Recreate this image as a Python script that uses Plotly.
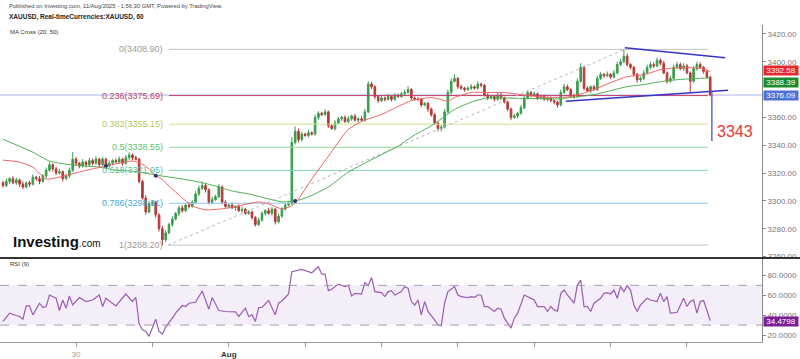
import plotly.graph_objects as go

# ---------------- data ----------------
closes = [
    3311, 3314, 3316, 3313, 3315, 3312, 3310, 3313, 3312, 3317,
    3316, 3314, 3318, 3322, 3326, 3323, 3320, 3321, 3316, 3318,
    3322, 3330, 3327, 3325, 3328, 3326, 3329, 3327, 3330, 3326,
    3330, 3325, 3327, 3329, 3328, 3330, 3327, 3331, 3333, 3331,
    3330, 3314, 3302, 3292, 3298, 3299, 3290, 3280, 3272, 3277,
    3283, 3287, 3291, 3295, 3293, 3297, 3296, 3299, 3305, 3309,
    3311, 3308, 3299, 3301, 3303, 3310, 3299, 3296, 3297, 3295,
    3296, 3293, 3294, 3291, 3292, 3288, 3283, 3286, 3291, 3293,
    3291, 3294, 3285, 3289, 3294, 3297, 3298, 3342, 3350, 3344,
    3348, 3347, 3349, 3348, 3360, 3363, 3362, 3364, 3354, 3352,
    3356, 3359, 3360, 3357, 3359, 3361, 3358, 3359, 3358, 3364,
    3384, 3382, 3375, 3372, 3374, 3373, 3375, 3373, 3376, 3375,
    3377, 3378, 3380, 3374, 3373, 3373, 3369, 3370, 3366, 3362,
    3356, 3352, 3353, 3364, 3378, 3386, 3388, 3382, 3381, 3380,
    3381, 3382, 3381, 3384, 3383, 3376, 3374, 3375, 3373, 3376,
    3374, 3371, 3366, 3360, 3361, 3363, 3367, 3374, 3378, 3376,
    3377, 3374, 3375, 3373, 3374, 3372, 3371, 3369, 3378, 3382,
    3380, 3376, 3375, 3386, 3396, 3381, 3379, 3382, 3380, 3388,
    3391, 3390, 3391, 3389, 3392, 3398, 3400, 3404, 3398, 3396,
    3391, 3387, 3388, 3392, 3396, 3398, 3397, 3401, 3399, 3392,
    3386, 3388, 3396, 3398, 3395, 3397, 3392, 3386, 3395, 3398,
    3396, 3393, 3389, 3376.09,
]
first_open = 3313.0

upper_wick = [
    1.5, 2, 1, 2, 1.5, 1, 2, 1, 1.5, 2,
    1, 2, 1.5, 2, 2, 1, 1.5, 2, 1, 1.5,
    2, 5, 1.5, 1, 2, 1, 2, 1.5, 2, 1,
    1.5, 1, 2, 1, 1.5, 2, 1, 2, 2, 1,
    1.5, 1, 1, 2, 2, 1, 1, 1, 2, 2,
    1.5, 2, 1, 1.5, 2, 1, 2, 1.5, 2, 2,
    3, 2, 1, 2, 1.5, 2, 1, 1.5, 1, 2,
    1, 1.5, 2, 1, 1.5, 1, 1, 2, 1.5, 1,
    2, 1.5, 1, 2, 1.5, 1.5, 1, 4, 3.5, 2,
    1.5, 1, 2, 1, 2, 1.5, 1, 2, 1, 1,
    2, 1.5, 1, 1.5, 2, 1, 1.5, 1, 2, 2,
    2, 1.5, 1, 1, 1.5, 1, 2, 1, 1.5, 1,
    1.5, 2, 2.5, 1, 1, 1.5, 1, 1, 1, 1,
    1, 1, 1.5, 2, 2, 2, 3, 1, 1.5, 1,
    1.5, 2, 1, 2, 1, 1, 1.5, 1, 1, 2,
    1.5, 1, 1, 1, 1.5, 1, 2, 2, 1.5, 1,
    1.5, 1, 1, 1.5, 1, 1, 1, 1, 2, 2,
    1.5, 1, 1, 2, 3, 1, 1.5, 1, 1.5, 2,
    1.5, 1, 2, 1, 2, 2, 2, 4.9, 2, 1,
    1, 1, 1.5, 2, 2, 2, 1.5, 2, 1.5, 1.5,
    1, 2, 2, 2, 1.5, 2, 1.5, 1, 2, 2,
    1.5, 1, 1, 1,
]
lower_wick = [
    1.5, 1, 2, 1, 1.5, 2, 1.5, 1, 2, 1,
    1.5, 2, 1, 1.5, 1, 2, 1.5, 1, 2, 1,
    1.5, 1, 2, 1.5, 1, 2, 1, 1.5, 1, 2,
    1, 2, 1, 1.5, 1, 1.5, 2, 1, 1.5, 2,
    1, 1.5, 1, 2, 1, 1.5, 2, 2, 3.8, 1.5,
    1, 1.5, 1, 2, 1.5, 1, 1.5, 1, 1, 1.5,
    1, 2, 1.5, 1, 1, 1, 1.5, 1, 1.5, 1,
    2, 1, 1.5, 1, 1, 1.5, 1.5, 1, 1, 1.5,
    1, 1.5, 2, 1, 1, 1, 1, 1, 1.5, 2,
    1.5, 1, 1.5, 1, 1, 1.5, 1, 1, 1.5, 1,
    1.5, 1, 1.5, 1, 1, 1.5, 1, 1.5, 1, 1,
    1, 1.5, 2, 1.5, 1, 1.5, 1, 1.5, 1, 1,
    1, 1.5, 1, 1.5, 1, 1.5, 1.5, 1, 2, 1.5,
    1.5, 2, 2, 1, 1, 1.5, 1, 1.5, 1, 1.5,
    1, 1.5, 1, 1, 1.5, 1, 1.5, 1, 1.5, 1,
    1.5, 1, 1.5, 2, 1, 1.5, 1, 1, 1, 1.5,
    1, 1.5, 1, 1, 1.5, 1, 1.5, 2, 1, 1,
    1, 2, 1.5, 1, 1, 1.5, 1, 1.5, 1, 1,
    1, 1.5, 1, 1.5, 1, 1, 1, 1, 1.5, 1.5,
    1.5, 2, 1.5, 1, 1, 1.5, 1.5, 1, 1.5, 1,
    1.5, 1, 1, 1.5, 1, 1.5, 1, 8, 1, 1.5,
    1, 1.5, 1, 1,
]

# moving averages (candle index, price)
ma20_readings = [
    (0, 3329.3), (5, 3327.9), (9, 3324.3), (13, 3315.7), (17, 3317.1), (24, 3321.4),
    (31, 3325.0), (39, 3328.6), (43, 3325.0), (46, 3317.9), (47, 3317.1), (52, 3306.4),
    (57, 3296.4), (61, 3293.6), (66, 3294.3), (71, 3296.4), (77, 3299.3), (80, 3297.9),
    (84, 3294.3), (87, 3296.5), (89, 3301.4), (93, 3315.7), (98, 3332.1), (104, 3351.4),
    (108, 3357.1), (114, 3362.1), (119, 3367.9), (123, 3372.1), (129, 3374.3), (132, 3372.9),
    (134, 3371.4), (136, 3374.3), (141, 3377.9), (146, 3377.9), (151, 3377.9), (156, 3376.4),
    (161, 3375.0), (166, 3374.3), (171, 3375.0), (178, 3380.0), (183, 3385.0), (188, 3389.3),
    (193, 3390.7), (198, 3394.3), (203, 3395.7), (208, 3395.7), (212, 3394.3), (213, 3392.58),
]
ma50_readings = [
    (0, 3344.3), (9, 3335.0), (14, 3328.6), (19, 3326.4), (25, 3325.0), (29, 3324.3),
    (34, 3322.1), (39, 3321.4), (46, 3318.6), (54, 3315.7), (59, 3313.6), (64, 3310.7),
    (69, 3307.1), (74, 3305.0), (80, 3301.4), (84, 3299.3), (89, 3300.5), (93, 3304.0),
    (98, 3310.0), (104, 3320.7), (113, 3332.1), (119, 3339.3), (123, 3346.0), (129, 3354.0),
    (132, 3359.0), (136, 3365.7), (141, 3371.0), (146, 3374.0), (151, 3374.0), (156, 3373.6),
    (161, 3373.6), (166, 3373.2), (171, 3374.3), (178, 3376.4), (188, 3382.1), (193, 3383.6),
    (198, 3385.7), (203, 3387.1), (208, 3387.9), (213, 3388.39),
]
cross_readings = [(31, 3325.0), (46, 3318.0), (88, 3300.0)]

rsi_readings = [
    (0, 33.7), (2, 42), (4, 39.7), (5, 38.7), (6, 36), (7, 49.3), (8, 49.3), (9, 40.3),
    (11, 52), (12, 47.7), (13, 48.7), (14, 60.3), (16, 57), (17, 44.7), (18, 55.3), (19, 47),
    (20, 59.3), (21, 50.3), (23, 57.7), (25, 53.7), (27, 55.3), (29, 60.3), (30, 48.7), (31, 57),
    (34, 49.3), (35, 53.7), (37, 61.3), (39, 53.7), (40, 58), (41, 31.3), (42, 25.3), (43, 23.7),
    (44, 18.7), (46, 36), (47, 23.7), (48, 21), (49, 28), (51, 37), (52, 42), (54, 49.7),
    (55, 48.7), (56, 52), (58, 53), (60, 64.3), (62, 46), (63, 57.7), (65, 44.7), (67, 43.7),
    (70, 43.3), (71, 38.7), (73, 47), (74, 38.7), (75, 40.3), (76, 33.7), (77, 47.7), (78, 47.7),
    (80, 54.7), (82, 40.3), (83, 52), (84, 54.3), (86, 61.3), (87, 83.7), (90, 86), (93, 82.7),
    (95, 88.7), (96, 81.3), (97, 81.3), (98, 64.7), (99, 66), (101, 71.3), (103, 68.7), (104, 70.3),
    (105, 59.3), (106, 62), (108, 61.3), (109, 72.7), (110, 69.7), (111, 78), (112, 63.7), (114, 62.7),
    (115, 58.7), (116, 63.7), (117, 64.7), (118, 60.3), (120, 63.7), (121, 68.7), (122, 67), (123, 53.7),
    (124, 50.3), (125, 55.3), (126, 40.3), (127, 53.7), (128, 43.7), (130, 35.3), (131, 30.3), (132, 29.3),
    (133, 52), (134, 63.7), (135, 66), (136, 68.7), (137, 60.3), (138, 58.7), (140, 57.7), (141, 58.7),
    (142, 58), (143, 60.3), (144, 60.3), (145, 48.7), (146, 48.7), (148, 43.7), (149, 47), (150, 46),
    (151, 37), (153, 27), (154, 37), (155, 42), (157, 60.3), (158, 58.7), (160, 55.3), (161, 48.7),
    (163, 48.7), (164, 43.7), (165, 48.7), (166, 45.3), (167, 44), (168, 62), (169, 65.3), (170, 60.3),
    (172, 52), (173, 70.3), (174, 75.3), (175, 48.7), (176, 48.7), (177, 43.7), (178, 52), (180, 57),
    (181, 62), (182, 62.7), (183, 61.3), (184, 65.3), (185, 57), (186, 68.7), (187, 63.7), (188, 69.7),
    (189, 65.3), (190, 50.3), (191, 43.7), (192, 50.3), (194, 57), (195, 55.3), (197, 53.7), (198, 62),
    (199, 53.7), (200, 58.7), (201, 42), (203, 42.7), (205, 57), (206, 48.7), (207, 53.7), (208, 55.3),
    (209, 42), (210, 53.7), (211, 54.7), (212, 45), (213, 34.4798),
]

fib_high = 3408.90
fib_low = 3268.20
fib_ratios = [0, 0.236, 0.382, 0.5, 0.618, 0.786, 1]
fib_names = ["0", "0.236", "0.382", "0.5", "0.618", "0.786", "1"]
fib_line_colors = ["#c4c4c4", "#c2406a", "#d3e08a", "#8fd694", "#7fd6b8", "#8cc4ee", "#c4c4c4"]
fib_text_colors = ["#9a9a9a", "#c2406a", "#b5c55a", "#5cbf6a", "#5cbfa0", "#4aa3dc", "#9a9a9a"]
fib_start_idx, fib_end_idx = 50, 212.3
fib_low_idx, fib_high_idx = 49.7, 187.3

trend_upper = [(187.3, 3410.0), (217.5, 3402.9)]
trend_lower = [(169.5, 3371.7), (218.4, 3379.5)]
projection = [(213.5, 3379.0), (213.5, 3343.0)]
target_value = 3343
target_label_pos = (220.5, 3350.0)

last_price = 3376.09
ma20_last = 3392.58
ma50_last = 3388.39
rsi_last = 34.4798

price_ticks = [3260, 3280, 3300, 3320, 3340, 3360, 3400, 3420]
rsi_ticks = [20, 40, 60, 80]
day_ticks = [22, 45, 68, 91, 114, 137, 160, 183, 206]
day_labels = ["30", "", "<span style='color:#333'><b>Aug</b></span>", "", "", "", "", "", ""]

# ---------------- build ----------------
FONT = "Liberation Sans, Arial, sans-serif"
opens = [first_open] + closes[:-1]
idx = list(range(len(closes)))
highs = [max(o, c) + u for o, c, u in zip(opens, closes, upper_wick)]
lows = [min(o, c) - d for o, c, d in zip(opens, closes, lower_wick)]

W, H = 800, 359
ML, MR, MT, MB = 0, 38, 25, 15
PW = W - ML - MR
PH = H - MT - MB
def py(ypix):  # pixel row -> paper y
    return (H - MB - ypix) / PH
def px(xpix):
    return (xpix - ML) / PW

fig = go.Figure()

# fib lines + diagonal
for r, name, lc, tc in zip(fib_ratios, fib_names, fib_line_colors, fib_text_colors):
    lvl = fib_high - r * (fib_high - fib_low)
    fig.add_trace(go.Scatter(x=[fib_start_idx, fib_end_idx], y=[lvl, lvl], mode="lines",
                             line=dict(color=lc, width=1), hoverinfo="skip", showlegend=False))
    fig.add_annotation(x=fib_start_idx - 1.2, y=lvl, xref="x", yref="y", text=f"{name}({lvl:.2f})",
                       showarrow=False, xanchor="right", yanchor="middle",
                       font=dict(family=FONT, size=9, color=tc))
fig.add_trace(go.Scatter(x=[fib_low_idx, fib_high_idx], y=[fib_low, fib_high], mode="lines",
                         line=dict(color="#b8b8b8", width=1, dash="dot"), hoverinfo="skip", showlegend=False))

# MAs
fig.add_trace(go.Scatter(x=[p[0] for p in ma50_readings], y=[p[1] for p in ma50_readings], mode="lines",
                         line=dict(color="#4caf50", width=1, shape="spline", smoothing=0.6),
                         hoverinfo="skip", showlegend=False))
fig.add_trace(go.Scatter(x=[p[0] for p in ma20_readings], y=[p[1] for p in ma20_readings], mode="lines",
                         line=dict(color="#f06262", width=1, shape="spline", smoothing=0.6),
                         hoverinfo="skip", showlegend=False))

# candles
fig.add_trace(go.Candlestick(x=idx, open=opens, high=highs, low=lows, close=closes,
                             increasing=dict(line=dict(color="#3a9d4f", width=1), fillcolor="#3a9d4f"),
                             decreasing=dict(line=dict(color="#b63a36", width=1), fillcolor="#b63a36"),
                             whiskerwidth=0, hoverinfo="skip", showlegend=False))

fig.add_trace(go.Scatter(x=[p[0] for p in cross_readings], y=[p[1] for p in cross_readings], mode="markers",
                         marker=dict(color="#2b2f7a", size=4), hoverinfo="skip", showlegend=False))

# trend lines / projection
for seg, col, wd in [(trend_upper, "#3535c8", 1.5), (trend_lower, "#3535c8", 1.5), (projection, "#5f6ad0", 1.5)]:
    fig.add_trace(go.Scatter(x=[p[0] for p in seg], y=[p[1] for p in seg], mode="lines",
                             line=dict(color=col, width=wd), hoverinfo="skip", showlegend=False, cliponaxis=False))
fig.add_annotation(x=target_label_pos[0], y=target_label_pos[1], xref="x", yref="y", text=str(target_value),
                   showarrow=False, xanchor="center", yanchor="middle",
                   font=dict(family=FONT, size=16, color="#e53935"))

# RSI
fig.add_trace(go.Scatter(x=[p[0] for p in rsi_readings], y=[p[1] for p in rsi_readings], mode="lines",
                         line=dict(color="#9c5bb5", width=1.2), xaxis="x2", yaxis="y2",
                         hoverinfo="skip", showlegend=False))

shapes = [
    dict(type="line", xref="paper", yref="y", x0=0, x1=1, y0=last_price, y1=last_price,
         line=dict(color="#a9b4e6", width=1), layer="below"),
    dict(type="rect", xref="paper", yref="y2", x0=0, x1=1, y0=30, y1=70,
         fillcolor="rgba(170,120,200,0.13)", line=dict(width=0), layer="below"),
    dict(type="line", xref="paper", yref="y2", x0=0, x1=1, y0=70, y1=70,
         line=dict(color="#a99ab0", width=1, dash="dash")),
    dict(type="line", xref="paper", yref="y2", x0=0, x1=1, y0=30, y1=30,
         line=dict(color="#a99ab0", width=1, dash="dash")),
    dict(type="line", xref="paper", yref="paper", x0=0, x1=W / PW, y0=py(259.5), y1=py(259.5),
         line=dict(color="#333333", width=2)),
]

ann = [
    dict(text="Published on Investing.com, 11/Aug/2025 - 1:56:30 GMT, Powered by TradingView.",
         x=px(7), y=py(6), size=5.8, color="#444"),
    dict(text="<b>XAUUSD, Real-timeCurrencies:XAUUSD, 60</b>", x=px(7), y=py(17), size=6.5, color="#222"),
    dict(text="MA Cross (20, 50)", x=px(8), y=py(32), size=6, color="#333"),
    dict(text="RSI (9)", x=px(8), y=py(266), size=6, color="#333"),
]
for a in ann:
    fig.add_annotation(text=a["text"], x=a["x"], y=a["y"], xref="paper", yref="paper", showarrow=False,
                       xanchor="left", yanchor="middle", font=dict(family=FONT, size=a["size"], color=a["color"]))
fig.add_annotation(text="<b>Investing</b><span style='font-size:10px'>.com</span>", x=px(11), y=py(243),
                   xref="paper", yref="paper", showarrow=False, xanchor="left", yanchor="middle",
                   font=dict(family=FONT, size=15, color="#111"))

# axis value boxes
for val, ypos, yref, bg in [(f"{ma20_last:.2f}", 3393.6, "y", "#e8262b"),
                            (f"{ma50_last:.2f}", 3385.0, "y", "#1e8a2e"),
                            (f"{last_price:.2f}", 3375.7, "y", "#4f72d8"),
                            (f"{rsi_last:.4f}", rsi_last - 1.0, "y2", "#7b1f96")]:
    fig.add_annotation(text=val, x=1, y=ypos, xref="paper", yref=yref, showarrow=False, xanchor="left",
                       yanchor="middle", xshift=1, width=34, height=9, bgcolor=bg, borderpad=0,
                       font=dict(family=FONT, size=8, color="white"))

xr = [-0.9, 228.6]
fig.update_layout(
    width=W, height=H, margin=dict(l=ML, r=MR, t=MT, b=MB),
    paper_bgcolor="white", plot_bgcolor="white", showlegend=False,
    shapes=shapes,
    xaxis=dict(domain=[0, 1], range=xr, anchor="y", visible=False, rangeslider=dict(visible=False),
               showgrid=False, zeroline=False),
    yaxis=dict(domain=[py(259), 1], range=[3259.29, 3426.43], side="right", tickvals=price_ticks,
               tickformat=".2f", showgrid=False, zeroline=False, showline=True, linecolor="#888",
               linewidth=1, ticks="outside", ticklen=3, tickcolor="#888",
               tickfont=dict(family=FONT, size=8, color="#777")),
    xaxis2=dict(domain=[0, 1], range=xr, anchor="y2", matches="x", tickvals=day_ticks, ticktext=day_labels,
                showgrid=False, zeroline=False, showline=True, linecolor="#999", ticks="outside",
                ticklen=4, tickcolor="#999", tickfont=dict(family=FONT, size=8, color="#999")),
    yaxis2=dict(domain=[0, py(260)], range=[13, 97], side="right", tickvals=rsi_ticks, tickformat=".4f",
                showgrid=False, zeroline=False, showline=True, linecolor="#888", ticks="outside",
                ticklen=3, tickcolor="#888", tickfont=dict(family=FONT, size=8, color="#777")),
)

fig.write_html("out.html", config={"displayModeBar": False},
               post_script="document.body.style.margin='0';document.body.style.overflow='hidden';")
